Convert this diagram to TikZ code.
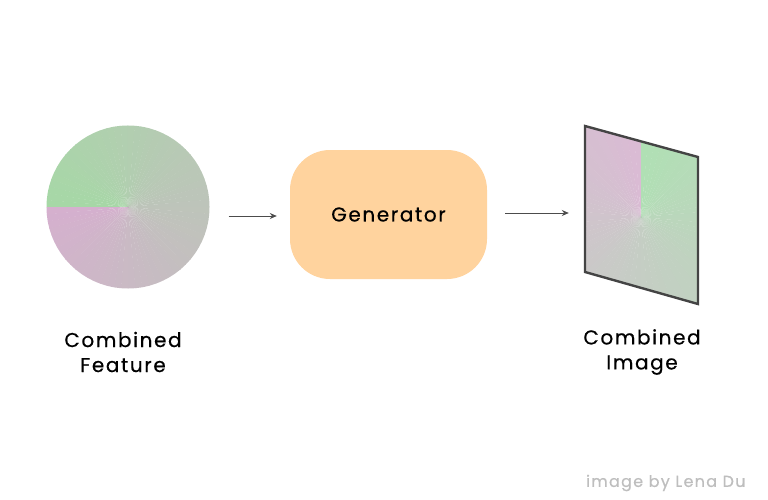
\documentclass[tikz,border=0pt]{standalone}
\usepackage{fontspec}
\setmainfont{Poppins}[LetterSpace=8,FakeBold=0.5]
\usepackage{xcolor}
\usetikzlibrary{arrows.meta,positioning,calc}
\definecolor{featgreen}{RGB}{166,216,166}
\definecolor{featpink}{RGB}{213,176,206}
\definecolor{imgpink}{RGB}{218,187,212}
\definecolor{imggreen}{RGB}{176,224,180}
\definecolor{genfill}{RGB}{255,211,158}
\definecolor{framegray}{RGB}{68,68,68}
\definecolor{creditgray}{RGB}{190,190,190}

\begin{document}
\begin{tikzpicture}[x=1pt,y=-1pt,
  flow/.style={-{Stealth[length=7pt,width=6pt]},draw=black!70,line width=0.9pt},
  caption/.style={align=center,font=\fontsize{20}{25}\selectfont,text=black}]
  \useasboundingbox (0,0) rectangle (768,500);

  % Feature disc (conic gradient from wedges)
  \node[circle,minimum size=163pt,inner sep=0pt] (feat) at (128,207) {};
  \begin{scope}
    \clip (128,207) circle (81.5);
    \foreach \i in {0,...,71} {
      \pgfmathsetmacro{\a}{180+5*\i}
      \pgfmathsetmacro{\p}{100-\i*100/71}
      \fill[featgreen!\p!featpink] (128,207) -- ++(\a-0.3:90) arc[start angle=\a-0.3,end angle=\a+5,radius=90] -- cycle;
    }
  \end{scope}

  % Generator block
  \node[fill=genfill,rounded corners=40pt,minimum width=197pt,minimum height=129pt,
    font=\fontsize{20}{24}\selectfont] (gen) at (388.5,214.5) {Generator};

  % Output image (skewed frame)
  \node[minimum width=113pt,minimum height=178pt,inner sep=0pt] (img) at (641.5,215) {};
  \begin{scope}
    \clip (585,126) -- (698,157) -- (698,304) -- (585,272) -- cycle;
    \foreach \i in {0,...,71} {
      \pgfmathsetmacro{\a}{270-5*\i}
      \pgfmathsetmacro{\p}{100-\i*100/71}
      \fill[imgpink!\p!imggreen] (641,217) -- ++(\a+0.3:150) arc[start angle=\a+0.3,end angle=\a-5,radius=150] -- cycle;
    }
  \end{scope}
  \draw[framegray,line width=2.4pt,line join=miter] (585,126) -- (698,157) -- (698,304) -- (585,272) -- cycle;

  % Connectors
  \draw[flow] ([xshift=19pt]feat.east |- 0,216) -- ([xshift=-13pt]gen.west |- 0,216);
  \draw[flow] ([xshift=18pt]gen.east |- 0,213) -- ([xshift=-16pt]img.west |- 0,213);

  % Captions
  \node[caption] (featlabel) at (123,352) {Combined\\Feature};
  \node[caption] (imglabel) at (642,352) {Combined\\Image};

  % Credit
  \node[text=creditgray,font=\fontsize{16}{19}\selectfont,anchor=east] (credit) at (749,483) {image by Lena Du};
\end{tikzpicture}
\end{document}
